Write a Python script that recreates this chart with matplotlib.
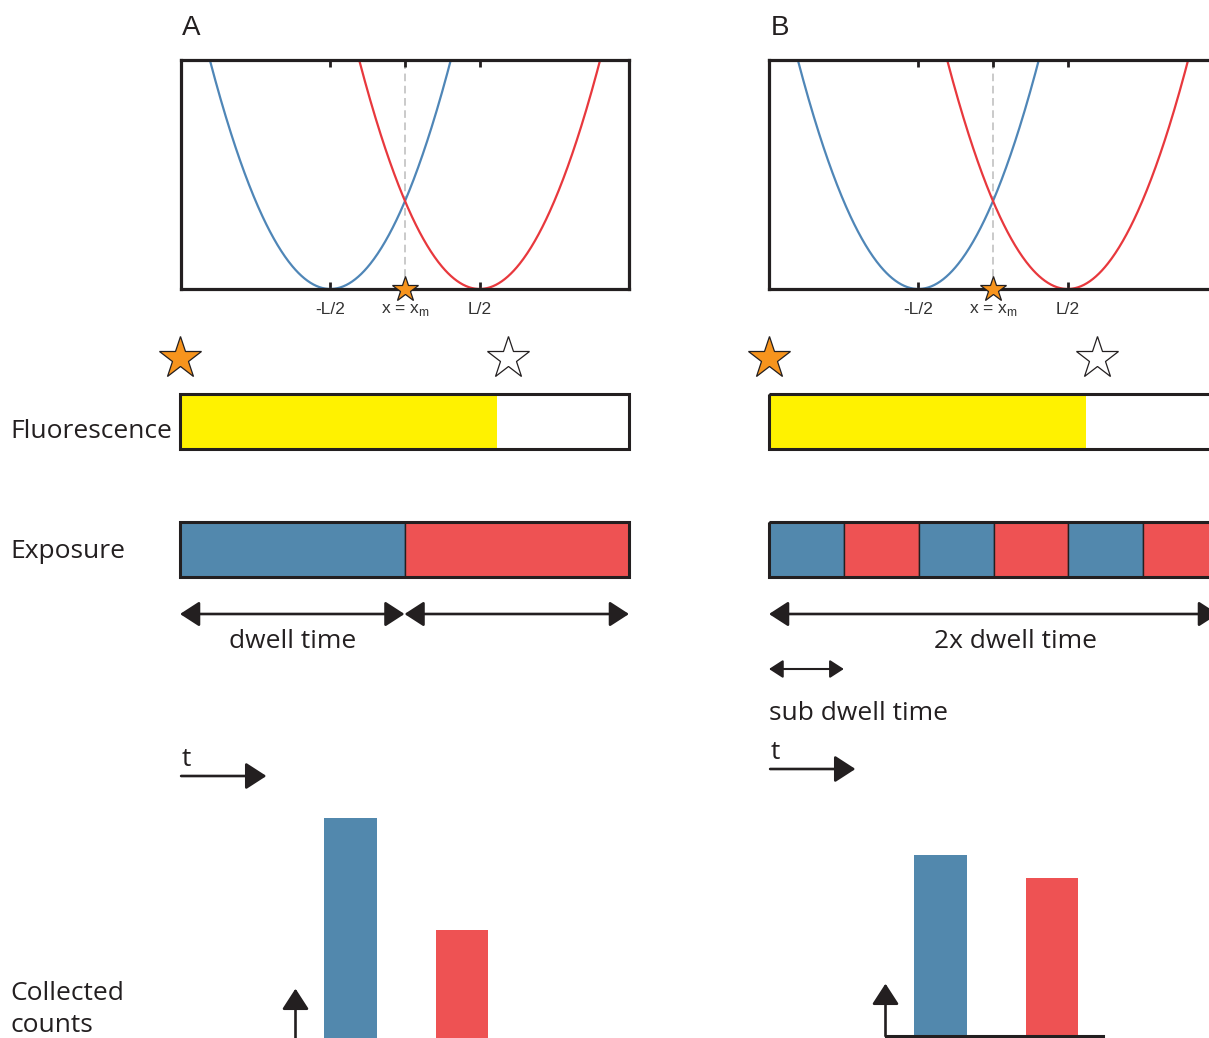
# Schematic of dwell-time exposure: two harmonic wells, the fluorescence /
# exposure timelines for one long dwell (A) and alternating sub-dwells (B),
# and the counts collected in each state.

import numpy as np
import matplotlib
matplotlib.use("Agg")
import matplotlib.pyplot as plt

W, H = 1209, 1038
INK = "#231f20"
BLUE_LINE, RED_LINE = "#4f86b7", "#e8383d"
BLUE, RED = "#5288ad", "#ee5253"
YELLOW, ORANGE = "#fff200", "#f7941d"
TEXT_FONT = ["Open Sans", "DejaVu Sans"]
AXIS_FONT = ["Liberation Sans", "DejaVu Sans"]
TEXT_SIZE = 19

# wells (positions in units of L)
well_centres = [-0.5, 0.5]
well_colours = [BLUE_LINE, RED_LINE]
x_ticks = [-0.5, 0.0, 0.5]
x_tick_labels = ["-L/2", r"x = x$_\mathregular{m}$", "L/2"]
x_marker = 0.0

# timelines (units of one dwell time)
total_time = 2.0
bleach_time = 1.41
star_times = [0.0, 1.46]
exposure_A = ["blue", "red"]
exposure_B = ["blue", "red", "blue", "red", "blue", "red"]

# collected counts per state
count_states = [1, 2]
counts_A = [1.0, 0.5]
counts_B = [0.81, 0.71]

fig = plt.figure(figsize=(W / 100, H / 100), dpi=100)


def box(x0, y0, x1, y1):
    """Pixel box (top-left origin) -> figure rect."""
    return [x0 / W, 1 - y1 / H, (x1 - x0) / W, (y1 - y0) / H]


def fig_text(x, y, s, **kw):
    kw.setdefault("family", TEXT_FONT)
    kw.setdefault("color", INK)
    fig.text(x / W, 1 - y / H, s, **kw)


def arrow(ax, x0, y0, x1, y1, both=False, scale=14, lw=1.9):
    style = "<|-|>" if both else "-|>"
    ax.annotate("", xy=(x1, y1), xytext=(x0, y0),
                arrowprops=dict(arrowstyle=f"{style},head_length=0.85,head_width=0.55",
                                mutation_scale=scale, lw=lw, color=INK,
                                shrinkA=0, shrinkB=0),
                annotation_clip=False)


def draw_wells(ax):
    x = np.linspace(-1.5, 1.5, 600)
    for c, col in zip(well_centres, well_colours):
        ax.plot(x, (x - c) ** 2, color=col, lw=1.6)
    ax.axvline(x_marker, color="#bcbcbc", lw=1.1, ls=(0, (5, 3)), zorder=0)
    ax.plot(x_marker, 0, marker="*", ms=19, mfc=ORANGE, mec=INK, mew=0.9,
            clip_on=False, zorder=5)
    ax.set_xlim(-1.5, 1.5)
    ax.set_ylim(0, 0.651)
    ax.set_xticks(x_ticks)
    ax.set_xticklabels(x_tick_labels, family=AXIS_FONT, fontsize=12.5, color="#333333")
    ax.set_yticks([])
    ax.tick_params(axis="x", direction="in", top=True, length=5, width=2,
                   color=INK, pad=9)
    for s in ax.spines.values():
        s.set_linewidth(2.3)
        s.set_color(INK)


def draw_timeline(ax, segments, dwell_label, label_x, t_arrow_y):
    ax.set_xlim(0, total_time)
    ax.set_ylim(800, 330)
    ax.axis("off")
    # bleaching: fluorophore on at t=0, off after bleach_time
    ax.plot(star_times[0], 358, marker="*", ms=32, mfc=ORANGE, mec=INK, mew=0.9,
            clip_on=False)
    ax.plot(star_times[1], 358, marker="*", ms=32, mfc="white", mec=INK, mew=0.9,
            clip_on=False)
    ax.barh(421.5, bleach_time, height=55, left=0, color=YELLOW, lw=0)
    ax.barh(421.5, total_time, height=55, left=0, fill=False, edgecolor=INK,
            lw=2.2, clip_on=False)
    # exposure segments
    n = len(segments)
    seg = total_time / n
    cols = [BLUE if s == "blue" else RED for s in segments]
    ax.barh([549.5] * n, seg, height=55, left=np.arange(n) * seg, color=cols,
            edgecolor=INK, lw=1.0, clip_on=False)
    ax.barh(549.5, total_time, height=55, left=0, fill=False, edgecolor=INK,
            lw=2.2, clip_on=False)
    # dwell arrows
    if n == 2:
        arrow(ax, 0, 614, 1, 614, both=True)
        arrow(ax, 1, 614, 2, 614, both=True)
    else:
        arrow(ax, 0, 614, total_time, 614, both=True)
        arrow(ax, 0, 669, seg, 669, both=True, scale=10, lw=1.5)
        ax.text(0, 714, "sub dwell time", family=TEXT_FONT, fontsize=TEXT_SIZE,
                color=INK, ha="left", va="center")
    ax.text(label_x, 641, dwell_label, family=TEXT_FONT, fontsize=TEXT_SIZE,
            color=INK, ha="center", va="center")
    # time direction
    arrow(ax, 0.005, t_arrow_y, 0.385, t_arrow_y, scale=15)
    ax.text(0.008, t_arrow_y - 4, "t", family=TEXT_FONT, fontsize=TEXT_SIZE,
            color=INK, ha="left", va="bottom")


def draw_counts(ax, counts):
    ax.bar(count_states, counts, width=0.47, color=[BLUE, RED], lw=0)
    ax.set_xlim(0.505, 2.46)
    ax.set_ylim(0, 1.0)
    ax.axis("off")
    ax.axhline(0, color=INK, lw=2.2, clip_on=False)
    arrow(ax, 0.505, 0, 0.505, 0.235, scale=15)


# --- panel A ---------------------------------------------------------------
draw_wells(fig.add_axes(box(181, 60, 629, 289)))
draw_timeline(fig.add_axes(box(180, 330, 629, 800)), exposure_A,
              "dwell time", 0.5, 776)
draw_counts(fig.add_axes(box(295.5, 1041 - 223, 513, 1041)), counts_A)

# --- panel B ---------------------------------------------------------------
draw_wells(fig.add_axes(box(769, 60, 1217, 289)))
draw_timeline(fig.add_axes(box(769, 330, 1218, 800)), exposure_B,
              "2x dwell time", 1.1, 769)
draw_counts(fig.add_axes(box(885.5, 1036 - 223, 1103, 1036)), counts_B)

# --- labels ------------------------------------------------------------------
fig_text(182, 28, "A", family=AXIS_FONT, fontsize=20, va="center")
fig_text(771, 28, "B", family=AXIS_FONT, fontsize=20, va="center")
fig_text(10, 431, "Fluorescence", fontsize=TEXT_SIZE, va="center")
fig_text(10, 551, "Exposure", fontsize=TEXT_SIZE, va="center")
fig_text(10, 994, "Collected", fontsize=TEXT_SIZE, va="center")
fig_text(10, 1026, "counts", fontsize=TEXT_SIZE, va="center")

fig.savefig("out.png", dpi=100)
